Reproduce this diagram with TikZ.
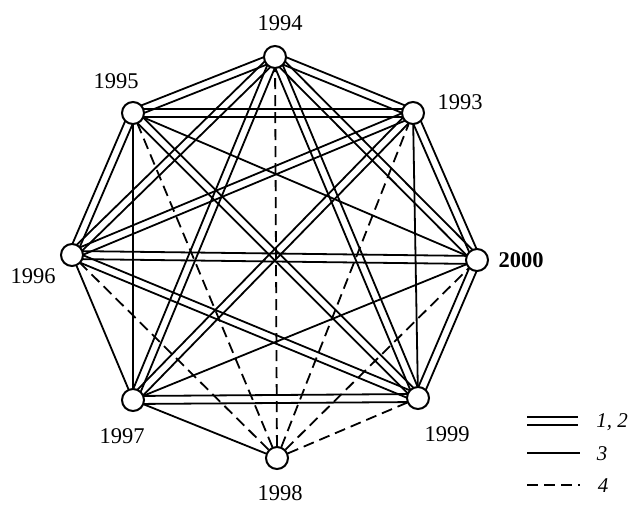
\documentclass[tikz,border=0pt]{standalone}
\usepackage{fontspec}
\setmainfont{Liberation Serif}
\usetikzlibrary{calc,backgrounds}
\newcommand\dbledge[2]{%
  \draw[single] ($(#1)!4pt!90:(#2)$) -- ($(#2)!4pt!-90:(#1)$);%
  \draw[single] ($(#1)!4pt!-90:(#2)$) -- ($(#2)!4pt!90:(#1)$);}
\begin{document}
\begin{tikzpicture}[x=1pt,y=-1pt,
  yr/.style={circle,draw,line width=2pt,fill=white,minimum size=22pt,inner sep=0pt},
  lab/.style={font=\fontsize{22.5}{24}\selectfont,inner sep=0pt},
  leglab/.style={font=\fontsize{21}{23}\selectfont\itshape,inner sep=0pt},
  single/.style={line width=1.8pt},
  weak/.style={line width=1.8pt,dash pattern=on 11pt off 6pt}]
\useasboundingbox (0,0) rectangle (632,504);
% year nodes
\node[yr] (n94) at (275,57) {};
\node[yr] (n93) at (413,113) {};
\node[yr] (n00) at (477,260) {};
\node[yr] (n99) at (418,398) {};
\node[yr] (n98) at (277,458) {};
\node[yr] (n97) at (133,400) {};
\node[yr] (n96) at (72,255) {};
\node[yr] (n95) at (133,113) {};
% labels
\node[lab] (l94) at (280,23) {1994};
\node[lab] (l95) at (116,81) {1995};
\node[lab] (l93) at (460,102) {1993};
\node[lab,font=\fontsize{22.5}{24}\selectfont\bfseries] (l00) at (521,260) {2000};
\node[lab] (l96) at (33,276) {1996};
\node[lab] (l97) at (122,436) {1997};
\node[lab] (l99) at (447,434) {1999};
\node[lab] (l98) at (280,493) {1998};
% edges
\begin{scope}[on background layer]
\dbledge{n94}{n95}
\dbledge{n94}{n93}
\dbledge{n94}{n96}
\dbledge{n94}{n97}
\dbledge{n94}{n99}
\dbledge{n94}{n00}
\dbledge{n93}{n95}
\dbledge{n93}{n00}
\dbledge{n93}{n97}
\dbledge{n93}{n96}
\dbledge{n00}{n99}
\dbledge{n00}{n96}
\dbledge{n99}{n97}
\dbledge{n99}{n96}
\dbledge{n99}{n95}
\dbledge{n95}{n96}
\draw[single] (n93) -- (n99);
\draw[single] (n00) -- (n97);
\draw[single] (n00) -- (n95);
\draw[single] (n97) -- (n95);
\draw[single] (n97) -- (n96);
\draw[single] (n97) -- (n98);
\draw[weak] (n98) -- (n94);
\draw[weak] (n98) -- (n93);
\draw[weak] (n98) -- (n00);
\draw[weak] (n98) -- (n99);
\draw[weak] (n98) -- (n96);
\draw[weak] (n98) -- (n95);
\end{scope}
% legend
\coordinate (lgA1) at (527,421);
\coordinate (lgA2) at (578,421);
\coordinate (lgB1) at (527,453);
\coordinate (lgB2) at (580,453);
\coordinate (lgC1) at (527,485);
\coordinate (lgC2) at (580,485);
\dbledge{lgA1}{lgA2}
\draw[single] (lgB1) -- (lgB2);
\draw[weak] (lgC1) -- (lgC2);
\node[leglab] (t12) at (612,422) {1, 2};
\node[leglab] (t3) at (602,454) {3};
\node[leglab] (t4) at (603,486) {4};
\end{tikzpicture}
\end{document}
